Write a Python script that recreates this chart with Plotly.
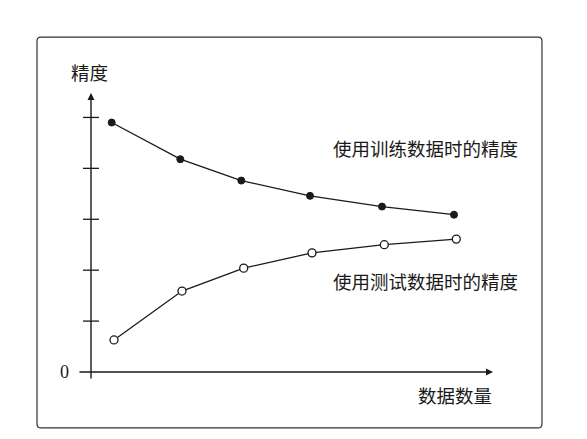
import plotly.graph_objects as go

# ---- data ----
train_x = [2.07, 8.93, 15.03, 21.9, 29.1, 36.3]
train_y = [4.90, 4.18, 3.76, 3.46, 3.25, 3.09]
test_x = [2.3, 9.1, 15.27, 22.1, 29.33, 36.53]
test_y = [0.63, 1.59, 2.04, 2.34, 2.50, 2.61]
y_ticks = [1, 2, 3, 4, 5]
train_label = "使用训练数据时的精度"
test_label = "使用测试数据时的精度"
y_title = "精度"
x_title = "数据数量"

X_RANGE = [-1.3, 40.2]
Y_RANGE = [-0.157, 5.48]

CJK = "Noto Sans CJK SC"
INK = "#1a1a1a"
FS = 18.5

fig = go.Figure()
fig.add_trace(go.Scatter(
    x=train_x, y=train_y, mode="lines+markers",
    line=dict(color=INK, width=1.3),
    marker=dict(size=7, color=INK, line=dict(color=INK, width=1)),
    showlegend=False, cliponaxis=False))
fig.add_trace(go.Scatter(
    x=test_x, y=test_y, mode="lines+markers",
    line=dict(color=INK, width=1.3),
    marker=dict(size=8, color="white", line=dict(color=INK, width=1.3)),
    showlegend=False, cliponaxis=False))

shapes = []
# tick marks on the y axis
for t in y_ticks:
    shapes.append(dict(type="line", xref="x", yref="y", x0=-0.8, x1=0.8, y0=t, y1=t,
                       line=dict(color=INK, width=1.3)))
# rounded border box (paper coords)
x0, x1, y0, y1 = -0.0988, 1.118, -0.167, 1.195
rx, ry = 0.0096, 0.0139
path = (f"M {x0+rx},{y0} L {x1-rx},{y0} Q {x1},{y0} {x1},{y0+ry} "
        f"L {x1},{y1-ry} Q {x1},{y1} {x1-rx},{y1} "
        f"L {x0+rx},{y1} Q {x0},{y1} {x0},{y1-ry} "
        f"L {x0},{y0+ry} Q {x0},{y0} {x0+rx},{y0} Z")
shapes.append(dict(type="path", xref="paper", yref="paper", path=path,
                   line=dict(color="#333333", width=1.2)))

C = dict(xanchor="center", yanchor="middle", showarrow=False)
annotations = [
    # y axis arrow
    dict(x=0, y=Y_RANGE[1], ax=0, ay=Y_RANGE[0], xref="x", yref="y", axref="x", ayref="y",
         showarrow=True, arrowhead=2, arrowsize=1, arrowwidth=1.4, arrowcolor=INK,
         text="", standoff=0),
    # x axis arrow
    dict(x=X_RANGE[1], y=0, ax=X_RANGE[0], ay=0, xref="x", yref="y", axref="x", ayref="y",
         showarrow=True, arrowhead=2, arrowsize=1, arrowwidth=1.4, arrowcolor=INK,
         text="", standoff=0),
    dict(x=-0.0337, y=0.0279, xref="paper", yref="paper", text="0",
         font=dict(family="Liberation Serif", size=18, color=INK), **C),
    dict(x=0.0289, y=1.073, xref="paper", yref="paper", text=y_title,
         font=dict(family=CJK, size=FS, color=INK), **C),
    dict(x=0.908, y=-0.0523, xref="paper", yref="paper", text=x_title,
         font=dict(family=CJK, size=FS, color=INK), **C),
    dict(x=33.4, y=4.40, xref="x", yref="y", text=train_label,
         font=dict(family=CJK, size=FS, color=INK), **C),
    dict(x=33.4, y=1.79, xref="x", yref="y", text=test_label,
         font=dict(family=CJK, size=FS, color=INK), **C),
]

fig.update_layout(
    width=587, height=439,
    margin=dict(l=70, r=102, t=85, b=67),
    paper_bgcolor="white", plot_bgcolor="white",
    xaxis=dict(range=X_RANGE, visible=False, fixedrange=True),
    yaxis=dict(range=Y_RANGE, visible=False, fixedrange=True),
    shapes=shapes, annotations=annotations,
)

fig.write_html("out.html")
